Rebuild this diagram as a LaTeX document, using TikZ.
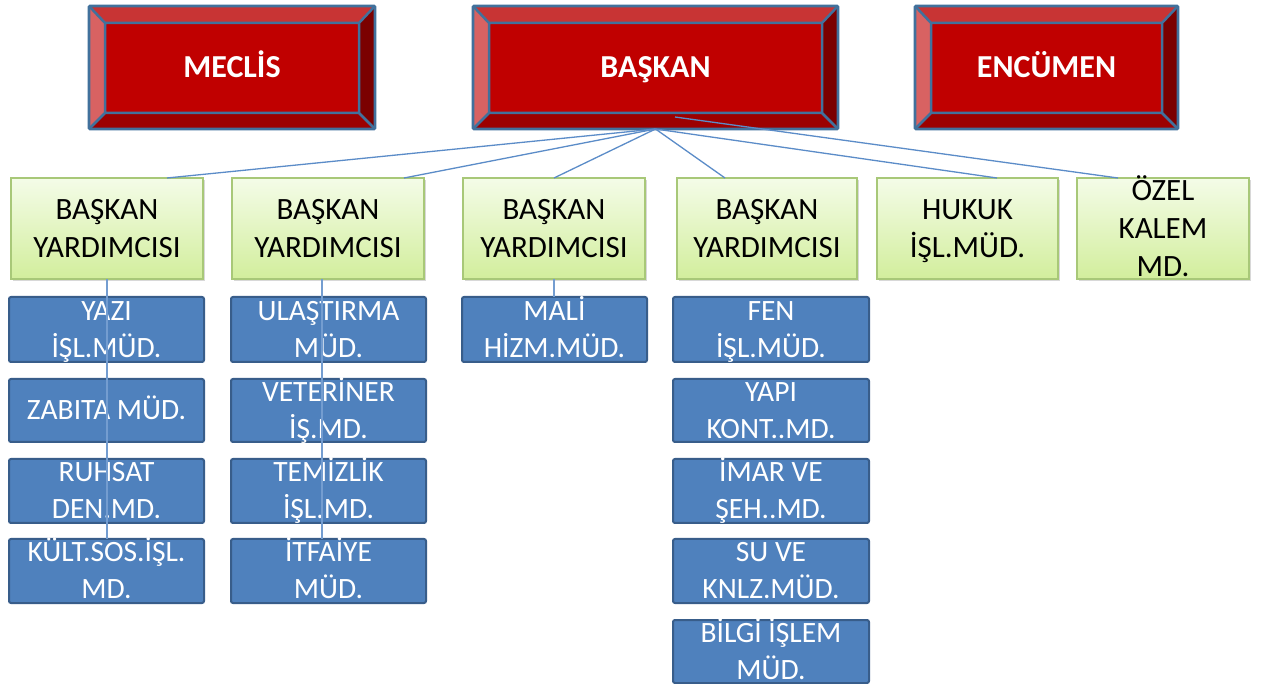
\documentclass[tikz,border=0pt]{standalone}
\usepackage{fontspec}
\setmainfont{Carlito}
\usetikzlibrary{shadows,calc}
\definecolor{redc}{HTML}{C00000}
\definecolor{bvtop}{HTML}{C83434}
\definecolor{bvleft}{HTML}{D86262}
\definecolor{bvright}{HTML}{7B0000}
\definecolor{bvbot}{HTML}{9C0000}
\definecolor{frame}{HTML}{41719C}
\definecolor{gtop}{HTML}{F4FCE8}
\definecolor{gbot}{HTML}{D2EE9C}
\definecolor{gline}{HTML}{A8C878}
\definecolor{bfill}{HTML}{4F81BD}
\definecolor{bline}{HTML}{385D8A}
\definecolor{conn}{HTML}{5B8CC8}
\newcommand\st{\rule[-0.26em]{0pt}{1.16em}}
% centred block of lines that does not enlarge its box
\newcommand\bt[1]{\vbox to 0pt{\vss\let\\\cr\halign{\hfil\st##\hfil\cr#1\crcr}\vss}}
% name, x1, y1, x2, y2, text
\newcommand\bevelbox[6]{%
  \fill[bvtop] (#2,#3) -- (#4,#3) -- (#4-16,#3+17) -- (#2+16,#3+17) -- cycle;
  \fill[bvleft] (#2,#3) -- (#2+16,#3+17) -- (#2+16,#5-16) -- (#2,#5) -- cycle;
  \fill[bvright] (#4,#3) -- (#4-16,#3+17) -- (#4-16,#5-16) -- (#4,#5) -- cycle;
  \fill[bvbot] (#2,#5) -- (#2+16,#5-16) -- (#4-16,#5-16) -- (#4,#5) -- cycle;
  \fill[redc] (#2+16,#3+17) rectangle (#4-16,#5-16);
  \draw[frame, line width=2.5pt, line join=round]
    (#2+16,#3+17) rectangle (#4-16,#5-16)
    (#2,#3) -- (#2+16,#3+17) (#4,#3) -- (#4-16,#3+17)
    (#2,#5) -- (#2+16,#5-16) (#4,#5) -- (#4-16,#5-16);
  \node[topbox, minimum width={#4pt-#2pt}, minimum height={#5pt-#3pt}]
    (#1) at ({(#2+#4)/2},{(#3+#5)/2}) {\bt{#6}};
}
\tikzset{
  topbox/.style={draw=frame, line width=2.8pt, rounded corners=1pt, inner sep=0pt, outer sep=0pt,
    text=white, font=\bfseries\fontsize{32}{38}\selectfont},
  greenbox/.style={draw=gline, line width=1.2pt, top color=gtop, bottom color=gbot,
    minimum height=101pt, inner sep=0pt, outer sep=0pt,
    font=\fontsize{31}{38}\selectfont, text=black,
    drop shadow={shadow xshift=1.5pt, shadow yshift=-2.5pt, opacity=0.25, fill=black!60}},
  bluebox/.style={draw=bline, line width=2pt, fill=bfill, rounded corners=2pt,
    inner sep=0pt, outer sep=0pt, text=white,
    font=\fontsize{29.5}{37}\selectfont},
  connline/.style={draw=conn, line width=1.3pt},
  vline/.style={draw=conn!85!white, line width=1.3pt},
}
\begin{document}
\begin{tikzpicture}[x=1pt, y=-1pt]
\fill[white] (0,0) rectangle (1262,684);
\useasboundingbox (0,0) rectangle (1262,684);

% top boxes
\bevelbox{meclis}{89}{6}{375}{129}{MECLİS}
\bevelbox{bask}{473}{6}{838}{129}{BAŞKAN}
\bevelbox{enc}{915}{6}{1178}{129}{ENCÜMEN}

% second row
\node[greenbox, minimum width=192pt] (g1) at (107,228.5) {\bt{BAŞKAN\\YARDIMCISI}};
\node[greenbox, minimum width=192pt] (g2) at (328,228.5) {\bt{BAŞKAN\\YARDIMCISI}};
\node[greenbox, minimum width=182pt] (g3) at (554,228.5) {\bt{BAŞKAN\\YARDIMCISI}};
\node[greenbox, minimum width=180pt] (g4) at (767,228.5) {\bt{BAŞKAN\\YARDIMCISI}};
\node[greenbox, minimum width=181pt] (g5) at (967.5,228.5) {\bt{HUKUK\\İŞL.MÜD.}};
\node[greenbox, minimum width=172pt] (g6) at (1163,228.5) {\bt{ÖZEL\\KALEM\\MD.}};

% connectors from BASKAN
\coordinate (ozstart) at (675,117);
\draw[connline] (bask.south) -- ([xshift=60pt]g1.north);
\draw[connline] (bask.south) -- ([xshift=76pt]g2.north);
\draw[connline] (bask.south) -- (g3.north);
\draw[connline] (bask.south) -- ([xshift=-42pt]g4.north);
\draw[connline] (bask.south) -- ([xshift=29.5pt]g5.north);
\draw[connline] (ozstart) -- ([xshift=-45pt]g6.north);

% column 1
\node[bluebox, minimum width=195pt, minimum height=65pt] (b11) at (106.5,329.5) {\bt{YAZI\\İŞL.MÜD.}};
\node[bluebox, minimum width=195pt, minimum height=63pt] (b12) at (106.5,410.5) {\bt{ZABITA MÜD.}};
\node[bluebox, minimum width=195pt, minimum height=64pt] (b13) at (106.5,491) {\bt{RUHSAT\\DEN.MD.}};
\node[bluebox, minimum width=195pt, minimum height=64pt] (b14) at (106.5,571) {\bt{KÜLT.SOS.İŞL.\\MD.}};

% column 2
\node[bluebox, minimum width=195pt, minimum height=65pt] (b21) at (328.5,329.5) {\bt{ULAŞTIRMA\\MÜD.}};
\node[bluebox, minimum width=195pt, minimum height=63pt] (b22) at (328.5,410.5) {\bt{VETERİNER\\İŞ.MD.}};
\node[bluebox, minimum width=195pt, minimum height=64pt] (b23) at (328.5,491) {\bt{TEMİZLİK\\İŞL.MD.}};
\node[bluebox, minimum width=195pt, minimum height=64pt] (b24) at (328.5,571) {\bt{İTFAİYE\\MÜD.}};

% column 3
\node[bluebox, minimum width=185pt, minimum height=65pt] (b31) at (554.5,329.5) {\bt{MALİ\\HİZM.MÜD.}};

% column 4
\node[bluebox, minimum width=196pt, minimum height=65pt] (b41) at (771,329.5) {\bt{FEN\\İŞL.MÜD.}};
\node[bluebox, minimum width=196pt, minimum height=63pt] (b42) at (771,410.5) {\bt{YAPI\\KONT..MD.}};
\node[bluebox, minimum width=196pt, minimum height=64pt] (b43) at (771,491) {\bt{İMAR VE\\ŞEH..MD.}};
\node[bluebox, minimum width=196pt, minimum height=64pt] (b44) at (771,571) {\bt{SU VE\\KNLZ.MÜD.}};
\node[bluebox, minimum width=196pt, minimum height=63pt] (b45) at (771,651.5) {\bt{BİLGİ İŞLEM\\MÜD.}};

% vertical connectors
\draw[vline] (g1.south) -- (g1.south |- b14.north);
\draw[vline] ([xshift=-6pt]g2.south) coordinate (c2) -- (c2 |- b24.north);
\draw[vline] (g3.south) -- (g3.south |- b31.north);
\end{tikzpicture}
\end{document}
